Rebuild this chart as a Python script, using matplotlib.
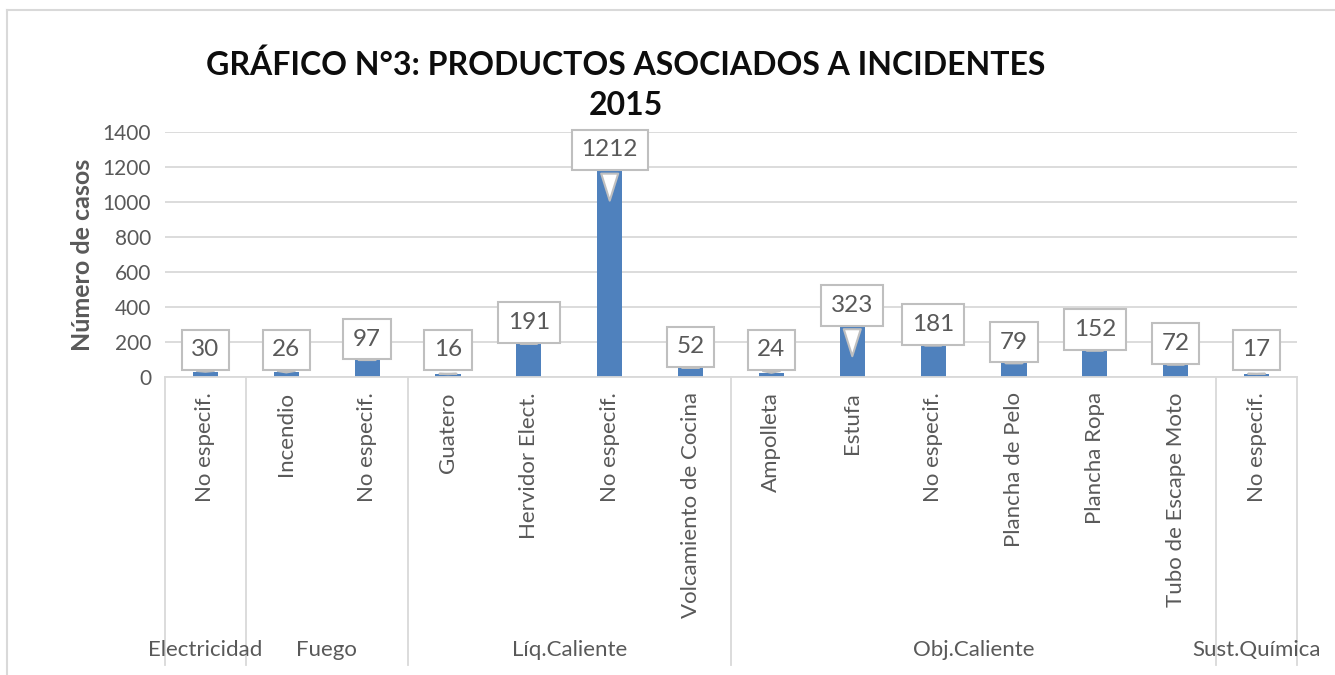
import matplotlib
matplotlib.use("Agg")
import matplotlib.pyplot as plt
from matplotlib import transforms
from matplotlib.lines import Line2D

# ---- data ----
groups = ["Electricidad", "Fuego", "Líq.Caliente", "Obj.Caliente", "Sust.Química"]
group_sizes = [1, 2, 4, 6, 1]
products = ["No especif.", "Incendio", "No especif.", "Guatero", "Hervidor Elect.",
            "No especif.", "Volcamiento de Cocina", "Ampolleta", "Estufa",
            "No especif.", "Plancha de Pelo", "Plancha Ropa", "Tubo de Escape Moto",
            "No especif."]
values = [30, 26, 97, 16, 191, 1212, 52, 24, 323, 181, 79, 152, 72, 17]
yticks = [0, 200, 400, 600, 800, 1000, 1200, 1400]

plt.rcParams['font.family'] = ['Lato', 'DejaVu Sans']
W, H = 1335, 675
fig = plt.figure(figsize=(W / 100, H / 100), dpi=100)
ax = fig.add_axes([165 / W, 1 - 377 / H, (1297 - 165) / W, (377 - 132) / H])

TXT = "#595959"
GRID = "#d9d9d9"
BAR = "#4f81bd"

x = list(range(len(values)))
ax.bar(x, values, width=0.31, color=BAR, zorder=2)
ax.set_xlim(-0.5, len(values) - 0.5)
ax.set_ylim(0, 1400)
ax.set_yticks(yticks)
ax.set_yticklabels([str(t) for t in yticks], fontsize=15, color=TXT)
ax.yaxis.grid(True, color=GRID, linewidth=1.3)
ax.set_axisbelow(True)
for s in ["left", "right", "top"]:
    ax.spines[s].set_visible(False)
ax.spines["bottom"].set_color(GRID)
ax.spines["bottom"].set_linewidth(1.3)
ax.tick_params(axis="y", length=0, pad=10)
ax.set_xticks(x)
ax.set_xticklabels(products, rotation=90, fontsize=16, color=TXT)
ax.tick_params(axis="x", length=0, pad=11)

ax.set_ylabel("Número de casos", fontsize=18, fontweight="bold", color=TXT, labelpad=6)

# group separators and labels
trans = transforms.blended_transform_factory(ax.transData, ax.transAxes)
ybot = -(665 - 377) / 245
bounds = [-0.5]
for n in group_sizes:
    bounds.append(bounds[-1] + n)
for b in bounds:
    ax.add_line(Line2D([b, b], [0, ybot], transform=trans, color=GRID,
                       linewidth=1.3, clip_on=False))
ygl = -(650 - 377) / 245
for g, a, b in zip(groups, bounds[:-1], bounds[1:]):
    ax.text((a + b) / 2, ygl, g, transform=trans, ha="center", va="center",
            fontsize=16, color=TXT)

# data callouts
px = 1400 / 245.0
for xi, v in zip(x, values):
    off = 15 if v > 300 else 21
    ty = max(v + off * px, 27 * px)
    tip = v - 220 if v > 300 else v
    ax.annotate(str(v), xy=(xi, tip), xytext=(xi, ty), textcoords="data",
                ha="center", va="center", fontsize=17.5, color=TXT, zorder=5,
                bbox=dict(boxstyle="square,pad=0.4", fc="white", ec="#bfbfbf", lw=1.5),
                arrowprops=dict(arrowstyle="wedge,tail_width=0.7,shrink_factor=0.5",
                                fc="white", ec="#bfbfbf", lw=1.5))

fig.text(626 / W, 1 - 85 / H, "GRÁFICO N°3: PRODUCTOS ASOCIADOS A INCIDENTES\n2015",
         ha="center", va="center", fontsize=23, fontweight="bold", color="#0d0d0d",
         linespacing=1.45)

# outer chart border
fig.add_artist(Line2D([7 / W, 1.0], [1 - 10 / H, 1 - 10 / H], transform=fig.transFigure,
                      color=GRID, linewidth=1.5))
fig.add_artist(Line2D([7 / W, 7 / W], [0, 1 - 10 / H], transform=fig.transFigure,
                      color=GRID, linewidth=1.5))

fig.savefig("out.png", dpi=100)
